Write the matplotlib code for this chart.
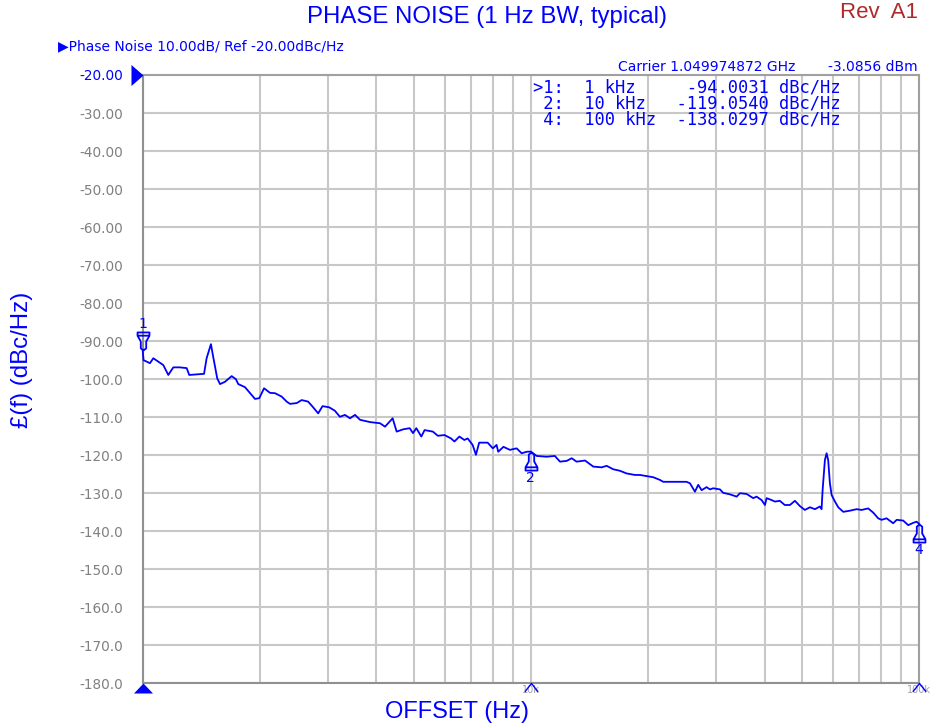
import matplotlib
matplotlib.use("Agg")
import matplotlib.pyplot as plt
from matplotlib.path import Path
from matplotlib.ticker import LogLocator, NullFormatter, FixedLocator

# ---------------- data ----------------
offset_hz = [1000, 1005, 1044, 1065, 1097, 1130, 1164, 1199, 1247, 1298, 1318, 1439, 1461, 1499, 1519,
             1556, 1582, 1629, 1695, 1738, 1763, 1834, 1891, 1947, 1997, 2054, 2128, 2193, 2281, 2349,
             2396, 2493, 2567, 2667, 2738, 2832, 2906, 3022, 3126, 3222, 3320, 3420, 3524, 3631, 3855,
             4087, 4210, 4405, 4511, 4687, 4874, 4970, 5070, 5222, 5324, 5592, 5760, 5990, 6230, 6355,
             6545, 6740, 6875, 7080, 7220, 7360, 7740, 7980, 8160, 8240, 8500, 8830, 9190, 9470, 9750,
             10000, 10350, 10980, 11530, 11890, 12370, 12740, 13120, 13790, 14480, 15220, 15680, 16300,
             16960, 17650, 18540, 19100, 20670, 21500, 21930, 22590, 25190, 25700, 26470, 26990, 27540,
             28370, 28930, 29500, 30700, 31300, 32580, 33900, 34570, 35970, 37400, 38150, 39300, 40100,
             40500, 41700, 42550, 43800, 45100, 46500, 47900, 49350, 50800, 52360, 53930, 55550, 56100,
             56450, 57220, 57800, 58350, 58950, 59560, 60740, 61940, 63800, 66370, 69070, 71140, 73980,
             76210, 78500, 80100, 82500, 85800, 87600, 91060, 93800, 96600, 98600, 100000]
phase_noise = [-92.3, -95.0, -95.8, -94.5, -95.4, -96.3, -98.9, -96.9, -96.9, -97.1, -98.9, -98.6, -94.5, -90.8, -94.1,
               -99.8, -101.3, -100.7, -99.2, -100.0, -101.3, -102.1, -103.7, -105.2, -105.0, -102.4, -103.6, -103.7, -104.6, -105.9,
               -106.5, -106.3, -105.5, -105.9, -107.2, -109.0, -107.1, -107.4, -108.3, -109.9, -109.4, -110.3, -109.4, -110.7, -111.3,
               -111.6, -112.5, -110.3, -113.8, -113.2, -112.9, -114.2, -112.9, -115.1, -113.4, -113.8, -114.9, -114.7, -115.6, -116.4,
               -115.1, -116.0, -115.6, -117.3, -119.9, -116.7, -116.7, -118.2, -117.3, -119.1, -117.8, -118.6, -118.2, -119.5, -119.1,
               -119.05, -120.2, -120.4, -120.2, -121.7, -121.5, -120.8, -121.7, -121.4, -123.0, -123.2, -122.8, -123.7,
               -124.1, -124.8, -125.2, -125.2, -125.8, -126.5, -127.0, -127.0, -127.0, -127.4, -129.6, -127.8, -129.2,
               -128.4, -129.0, -128.7, -129.0, -129.9, -130.3, -130.9, -130.0, -130.2, -131.3, -130.9, -131.8, -133.1,
               -131.3, -131.8, -132.2, -132.0, -133.1, -133.1, -132.0, -133.4, -134.4, -133.7, -134.2, -133.5, -134.2,
               -129.2, -121.3, -119.5, -121.3, -127.4, -130.5, -132.2, -133.7, -134.9, -134.6, -134.2, -134.4, -134.0,
               -135.1, -136.6, -137.0, -136.6, -137.9, -137.0, -137.2, -138.4, -137.8, -137.5, -138.03]

y_ticks = [-20, -30, -40, -50, -60, -70, -80, -90, -100, -110, -120, -130, -140, -150, -160, -170, -180]
y_tick_labels = ["-20.00", "-30.00", "-40.00", "-50.00", "-60.00", "-70.00", "-80.00", "-90.00",
                 "-100.0", "-110.0", "-120.0", "-130.0", "-140.0", "-150.0", "-160.0", "-170.0", "-180.0"]
x_major = [1e3, 1e4, 1e5]
x_major_labels = ["", "10k", "100k"]

marker_ids = ["1", "2", "4"]
marker_idx = [0, 75, len(offset_hz) - 1]
marker_rows = [">1:  1 kHz     -94.0031 dBc/Hz",
               " 2:  10 kHz   -119.0540 dBc/Hz",
               " 4:  100 kHz  -138.0297 dBc/Hz"]

BLUE = "#0000ff"
GRAY = "#808080"

fig = plt.figure(figsize=(9.38, 7.28), dpi=100)
ax = fig.add_axes([142.7 / 938, 1 - 683.3 / 728, (919 - 142.7) / 938, (683.3 - 75) / 728])

ax.set_xscale("log")
ax.set_xlim(1e3, 1e5)
ax.set_ylim(-180, -20)

ax.plot(offset_hz, phase_noise, color=BLUE, lw=1.3, zorder=3, clip_on=False)

# grid
ax.xaxis.set_major_locator(FixedLocator(x_major))
ax.xaxis.set_minor_locator(LogLocator(base=10, subs=range(2, 10)))
ax.xaxis.set_minor_formatter(NullFormatter())
ax.set_xticks(x_major, x_major_labels)
ax.set_yticks(y_ticks, y_tick_labels)
ax.grid(True, which="both", color="#c8c8c8", lw=1.5, zorder=0)
ax.tick_params(axis="x", which="both", length=0, labelsize=7, labelcolor="#a0a0a0", pad=1)
ax.tick_params(axis="y", length=0, labelsize=9.8, labelcolor=GRAY, pad=14)
ax.get_yticklabels()[0].set_color(BLUE)
for lab in ax.get_yticklabels():
    lab.set_fontfamily("DejaVu Sans")
for s in ax.spines.values():
    s.set_color("#a0a0a0")
    s.set_linewidth(1.5)
ax.spines["left"].set_color("#909090")
ax.spines["bottom"].set_color("#909090")

# marker symbols (pawn shape, tip at anchor)
verts_up = [(0, 0), (-0.15, -0.12), (-0.15, -0.5), (-0.33, -0.82), (-0.33, -1.0), (0.33, -1.0),
            (0.33, -0.82), (0.15, -0.5), (0.15, -0.12), (0, 0),
            (-0.33, -0.82), (0.33, -0.82)]
codes = [Path.MOVETO] + [Path.LINETO] * 9 + [Path.MOVETO, Path.LINETO]
pawn_below = Path(verts_up, codes)
pawn_above = Path([(x, -y) for x, y in verts_up], codes)

for mid, idx in zip(marker_ids, marker_idx):
    fx, fy = offset_hz[idx], phase_noise[idx]
    if mid == "1":
        ax.plot([fx], [fy], marker=pawn_above, ms=26, mfc="none", mec=BLUE, mew=1.3,
                clip_on=False, zorder=5)
        ax.annotate(mid, (fx, fy), xytext=(0, 13.5), textcoords="offset points", ha="center",
                    va="bottom", color=BLUE, fontsize=10, annotation_clip=False)
    else:
        ax.plot([fx], [fy], marker=pawn_below, ms=26, mfc="none", mec=BLUE, mew=1.3,
                clip_on=False, zorder=5)
        ax.annotate(mid, (fx, fy), xytext=(0, -14), textcoords="offset points", ha="center",
                    va="top", color=BLUE, fontsize=10, annotation_clip=False)

# reference arrow (tip on the left spine at top) and start marker below bottom-left corner
ref_arrow = Path([(0, 0), (-1, 0.875), (-1, -0.875), (0, 0)],
                 [Path.MOVETO, Path.LINETO, Path.LINETO, Path.CLOSEPOLY])
start_tri = Path([(0, 0), (-0.95, -1), (0.95, -1), (0, 0)],
                 [Path.MOVETO, Path.LINETO, Path.LINETO, Path.CLOSEPOLY])
caret = Path([(-0.8, -1), (0, 0), (0.8, -1)], [Path.MOVETO, Path.LINETO, Path.LINETO])
ax.plot([0], [1], marker=ref_arrow, ms=17.3, color=BLUE, mew=0, clip_on=False, zorder=6,
        transform=ax.transAxes)
ax.plot([0], [0], marker=start_tri, ms=14.4, color=BLUE, mew=0, clip_on=False, zorder=6,
        transform=ax.transAxes)
for xm in x_major[1:]:
    ax.plot([xm], [-180], marker=caret, ms=12, mfc="none", mec=BLUE, mew=1.0, clip_on=False,
            zorder=6)

# texts
fig.text(487 / 938, 1 - 17 / 728, "PHASE NOISE (1 Hz BW, typical)", ha="center", va="center",
         color=BLUE, fontsize=17.3, family="Liberation Sans")
fig.text(918 / 938, 1 - 2 / 728, "Rev  A1", ha="right", va="top", color="#b0282c",
         fontsize=16, family="Liberation Sans")
fig.text(457 / 938, 1 - 712 / 728, "OFFSET (Hz)", ha="center", va="center", color=BLUE,
         fontsize=17, family="Liberation Sans")
fig.text(22 / 938, 1 - 360 / 728, "£(f) (dBc/Hz)", ha="center", va="center", color=BLUE,
         fontsize=17.3, family="Liberation Sans", rotation=90)
fig.text(58 / 938, 1 - 46 / 728, "\u25b6Phase Noise 10.00dB/ Ref -20.00dBc/Hz", ha="left",
         va="center", color=BLUE, fontsize=10, family="DejaVu Sans")
fig.text(618 / 938, 1 - 67 / 728, "Carrier 1.049974872 GHz", ha="left", va="center",
         color=BLUE, fontsize=10, family="DejaVu Sans")
fig.text(918 / 938, 1 - 67 / 728, "-3.0856 dBm", ha="right", va="center",
         color=BLUE, fontsize=10, family="DejaVu Sans")
for i, row in enumerate(marker_rows):
    fig.text(533 / 938, 1 - (87 + 16.5 * i) / 728, row, ha="left", va="center", color=BLUE,
             fontsize=12.3, family="DejaVu Sans Mono")

fig.savefig("out.png", dpi=100)
